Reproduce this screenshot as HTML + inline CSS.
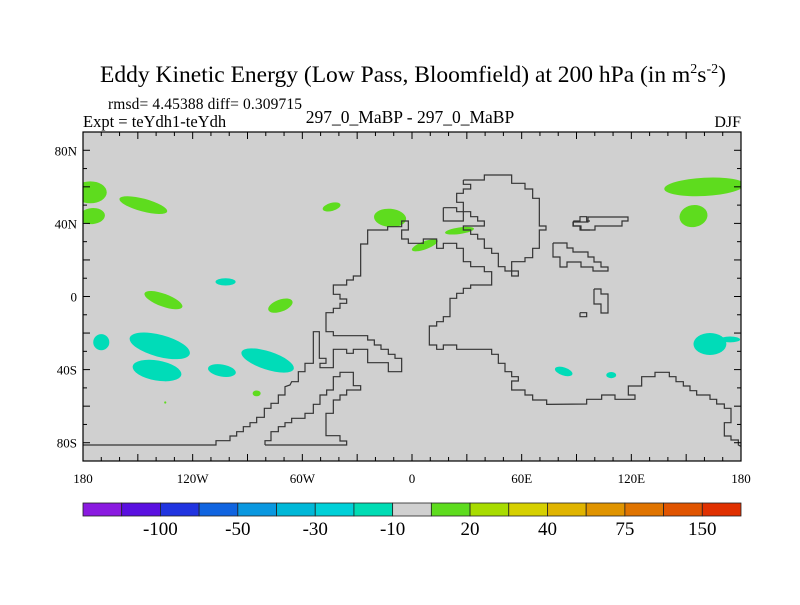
<!DOCTYPE html>
<html><head><meta charset="utf-8"><style>
body{margin:0;background:#fff;}
svg text{font-family:"Liberation Serif",serif;fill:#000;}
</style></head><body>
<svg id="c" width="800" height="600" xmlns="http://www.w3.org/2000/svg">
<defs><clipPath id="pc"><rect x="83" y="132" width="658" height="329"/></clipPath></defs>
<text x="413" y="82" text-anchor="middle" font-size="23.5">Eddy Kinetic Energy (Low Pass, Bloomfield) at 200 hPa (in m<tspan dy="-9" font-size="14">2</tspan><tspan dy="9">s</tspan><tspan dy="-9" font-size="14">-2</tspan><tspan dy="9">)</tspan></text>
<text x="108" y="109" font-size="15.5" textLength="194">rmsd= 4.45388 diff= 0.309715</text>
<text x="83" y="127" font-size="16.5">Expt = teYdh1-teYdh</text>
<text x="410" y="123" text-anchor="middle" font-size="17.5">297_0_MaBP - 297_0_MaBP</text>
<text x="741" y="127" text-anchor="end" font-size="16">DJF</text>
<rect x="83" y="132" width="658" height="329" fill="#d0d0d0"/>
<g id="blobs" clip-path="url(#pc)"></g>
<g id="coast" fill="none" stroke="#333" stroke-width="1.2" clip-path="url(#pc)"></g>
<g id="axes"></g>
<g id="cbar"></g>
</svg>
<script>
// data: anomaly blobs (lon/lat center, radii in degrees, rotation, bin value)
const blobLon=[-176,-175,-147,-136,-72,-85,-44,-12,26,7,154,160,-170,-138,-139.5,-102,-104,-79,83,109,163,174,-135];
const blobLat=[57,44,50,-2,-5,-53,49,43,36,28,44,60,-25,-27,-40.5,8,-40.5,-35,-41,-43,-26,-23.5,-58];
const blobRx=[9,7,13.5,11,7,2.2,5,8.8,8,7.5,7.7,22,4.4,17,13.5,5.5,7.7,15,5,2.7,9,5.5,0.6];
const blobRy=[6,4.4,3.5,3.5,3.3,1.6,2.2,5,1.8,2.2,6,5,4.4,6,5.5,2,3.3,5,2.2,1.7,6,1.6,0.6];
const blobRot=[0,-5,15,20,-20,0,-15,5,-8,-20,-10,-3,0,15,10,0,10,18,18,0,0,0,0];
const blobVal=[20,20,20,20,20,20,20,20,20,20,20,20,-10,-10,-10,-10,-10,-10,-10,-10,-10,-10,20];
// colorbar
const cbColors=["#8a1ae0","#5a10e0","#2034e0","#1064e0","#0a98e0","#00b8d8","#00d0d8","#00dcb4","#d0d0d0","#5edc1e","#a8dc00","#d6d000","#e0b400","#e09400","#e07400","#e05400","#e03000"];
const cbLabels=["-100","-50","-30","-10","20","40","75","150"];
const xTickLabels=["180","120W","60W","0","60E","120E","180"];
const yTickLabels=["80S","40S","0","40N","80N"];
const yTickVals=[-80,-40,0,40,80];

const X0=83,X1=741,Y0=132,Y1=461;
const px=lon=>X0+(lon+180)/360*(X1-X0);
const py=lat=>Y0+(90-lat)/180*(Y1-Y0);
const NS="http://www.w3.org/2000/svg";
function mk(tag,attrs,parent){const e=document.createElementNS(NS,tag);for(const k in attrs)e.setAttribute(k,attrs[k]);parent.appendChild(e);return e;}

const gB=document.getElementById('blobs');
const sc=(X1-X0)/360;
for(let i=0;i<blobLon.length;i++){
  const cx=px(blobLon[i]),cy=py(blobLat[i]);
  const e=mk('ellipse',{cx:cx,cy:cy,rx:blobRx[i]*sc,ry:blobRy[i]*sc,transform:`rotate(${blobRot[i]} ${cx} ${cy})`,fill:blobVal[i]>0?"#5edc1e":"#00dcb8"},gB);
  
  
}

// coastlines (static geography, traced in screen units)
const z3=a=>a.map(([u,v])=>[u/3+290,v/3+165]);
const z4=a=>a.map(([u,v])=>[u/3+540,v/3+200]);
const z5=a=>a.map(([u,v])=>[u/3+80,v/3+170]);
const main=[[83,445]].concat(z5([[408,825],[408,812],[450,812],[450,798],[470,798],[470,785],[490,785],[490,770],[510,770],[510,758],[530,758],[530,742],[553,742],[553,715],[573,715],[573,700],[595,700],[595,675],[615,675],[615,650]]),
 z3([[0,660],[5,650],[25,650],[25,620],[45,620],[45,595],[70,595],[70,500],[88,500],[88,580],[108,580],[108,595],[90,595],[90,608],[130,608],[130,553],[170,553],[170,565],[190,565],[190,553],[233,553],[233,593],[295,593],[295,620],[335,620],[335,580],[315,580],[315,568],[295,568],[295,553],[273,553],[273,540],[253,540],[253,525],[233,525],[233,512],[130,512],[130,500],[108,500],[108,443],[130,443],[130,430],[150,430],[150,415],[170,415],[170,402],[150,402],[150,388],[130,388],[130,360],[170,360],[170,345],[190,345],[190,333],[212,333],[212,237],[233,237],[233,195],[293,195],[293,185],[335,185],[335,168],[355,168],[355,195],[335,195],[335,222],[355,222],[355,235],[400,235],[400,222],[440,222],[440,250],[460,250],[460,235],[500,235],[500,250],[520,250],[520,290],[542,290],[542,305],[583,305],[583,320],[605,320],[605,360],[542,360],[542,370],[520,370],[520,385],[500,385],[500,400],[480,400],[480,455],[460,455],[460,470],[440,470],[440,483],[418,483],[418,540],[440,540],[440,553],[460,553],[460,540],[500,540],[500,553],[605,553],[605,568],[625,568],[625,595],[645,595],[645,620],[665,620],[665,635],[685,635],[685,648],[665,648],[665,675],[705,675],[705,690],[728,690],[728,705],[770,705],[770,718]]),
 z4([[140,612],[140,598],[185,598],[185,585],[225,585],[225,598],[285,598],[285,585],[265,585],[265,558],[305,558],[305,530],[345,530],[345,517],[388,517],[388,530],[408,530],[408,545],[430,545],[430,558],[450,558],[450,572],[470,572],[470,585],[510,585],[510,598],[530,598],[530,612],[553,612],[553,625],[573,625],[573,668],[553,668],[553,708],[573,708],[573,720],[595,720],[595,735],[605,740]]));
const inner=z5([[555,825],[555,812],[573,812],[573,785],[595,785],[595,770],[615,770],[615,758],[635,758]]).concat(
 z3([[5,760],[45,760],[45,745],[70,745],[70,718],[90,718],[90,690],[110,690],[110,675],[130,675],[130,635],[150,635],[150,622],[190,622],[190,662],[212,662],[212,675],[170,675],[170,690],[150,690],[150,705],[130,705],[130,745],[108,745],[108,812],[150,812],[150,828],[170,828],[170,840],[0,840]]),[[265,445]]);
const asia=z3([[520,45],[583,45],[583,30],[665,30],[665,55],[705,55],[705,72],[728,72],[728,100],[748,100],[748,183],[768,183],[768,195],[748,195],[748,250],[728,250],[728,278],[705,278],[705,290],[665,290],[665,318],[645,318],[645,305],[625,305],[625,265],[605,265],[605,250],[583,250],[583,222],[563,222],[563,208],[542,208],[542,195],[520,195],[520,183],[583,183],[583,168],[563,168],[563,155],[542,155],[542,140],[520,140],[520,112],[500,112],[500,85],[520,85],[520,72],[542,72],[542,58],[520,58],[520,45]]);
const shapes=[main,inner,asia,
 z3([[665,318],[685,318],[685,333],[665,333],[665,318]]),
 z3([[460,128],[500,128],[500,140],[520,140],[520,168],[460,168],[460,128]]),
 z3([[850,168],[870,168],[870,155],[890,155],[890,168],[900,168]]),
 z3([[900,195],[870,195],[870,183],[850,183],[850,168]]),
 z3([[870,443],[890,443],[890,455],[870,455],[870,443]]),
 [[573,222],[588,222],[588,217],[628,217],[628,221],[622,221],[622,226],[595,226],[595,230],[581,230],[581,226],[573,226],[573,222]],
 [[553,243],[567,243],[567,248],[573,248],[573,252],[588,252],[588,257],[594,257],[594,262],[601,262],[601,267],[608,267],[608,271],[593,271],[593,267],[581,267],[581,262],[567,262],[567,267],[560,267],[560,257],[553,257],[553,243]],
 [[594,289],[601,289],[601,294],[608,294],[608,313],[601,313],[601,304],[594,304],[594,289]]];
const gC=document.getElementById('coast');
shapes.forEach(s=>{const p=mk('polyline',{points:s.map(q=>q.join(',')).join(' ')},gC);
  
  });

// axes
const gA=document.getElementById('axes');
const fr=mk('rect',{x:X0,y:Y0,width:X1-X0,height:Y1-Y0,fill:'none',stroke:'#000','stroke-width':1.2},gA);


for(let lon=-180;lon<=180;lon+=10){const x=px(lon),L=(lon%30===0)?7:4;
  mk('line',{x1:x,x2:x,y1:Y1,y2:Y1-L,stroke:'#000'},gA);mk('line',{x1:x,x2:x,y1:Y0,y2:Y0+L,stroke:'#000'},gA);}
for(let lat=-90;lat<=90;lat+=10){const y=py(lat),L=(lat%20===0)?7:4;
  mk('line',{x1:X0,x2:X0+L,y1:y,y2:y,stroke:'#000'},gA);mk('line',{x1:X1,x2:X1-L,y1:y,y2:y,stroke:'#000'},gA);}
xTickLabels.forEach((t,i)=>{const e=mk('text',{x:px(-180+60*i),y:483,'text-anchor':'middle','font-size':13},gA);e.textContent=t;
  
  });
yTickLabels.forEach((t,i)=>{const e=mk('text',{x:77,y:py(yTickVals[i])+5,'text-anchor':'end','font-size':13},gA);e.textContent=t;
  
  });

// colorbar
const gCb=document.getElementById('cbar');
const bw=(X1-X0)/cbColors.length;
cbColors.forEach((c,i)=>{const r=mk('rect',{x:X0+i*bw,y:503,width:bw,height:13,fill:c,stroke:'#222','stroke-width':0.8},gCb);
  
  });
cbLabels.forEach((t,i)=>{const e=mk('text',{x:X0+(2+2*i)*bw,y:535,'text-anchor':'middle','font-size':19},gCb);e.textContent=t;
  
  });
</script>
</body></html>
